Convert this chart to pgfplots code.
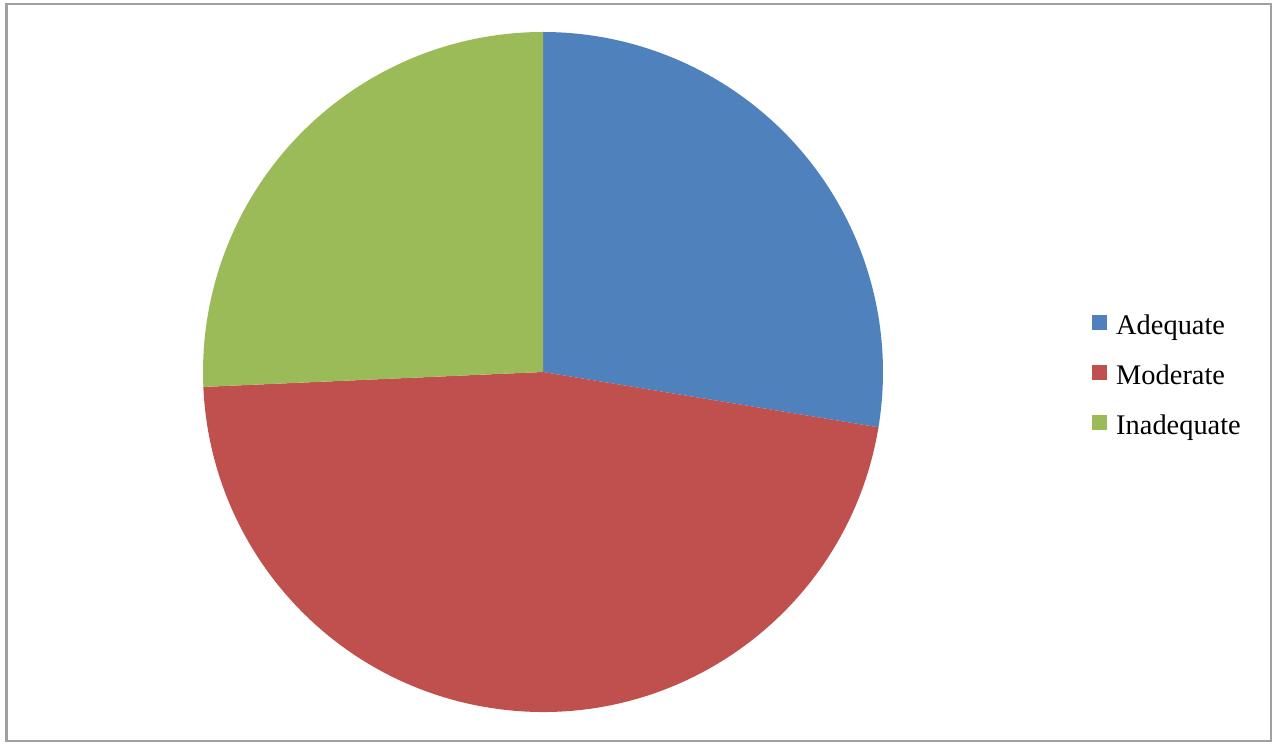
\documentclass[border=0pt]{standalone}
\usepackage{pgfplots}
\usepackage{pgfplotstable}
\pgfplotsset{compat=1.18}
\usepackage{fontspec}
\setmainfont{Liberation Serif}

\definecolor{adequate}{HTML}{4F81BD}
\definecolor{moderate}{HTML}{C0504D}
\definecolor{inadequate}{HTML}{9BBB59}
\definecolor{frame}{HTML}{A0A0A0}

% share of respondents (%)
\pgfplotstableread{
label value
Adequate 27.6
Moderate 46.7
Inadequate 25.7
}\piedata

\pgfplotstablegetelem{0}{value}\of\piedata \pgfmathsetmacro\va{\pgfplotsretval}
\pgfplotstablegetelem{1}{value}\of\piedata \pgfmathsetmacro\vb{\pgfplotsretval}
\pgfplotstablegetelem{2}{value}\of\piedata \pgfmathsetmacro\vc{\pgfplotsretval}
\pgfmathsetmacro\aA{90}
\pgfmathsetmacro\aB{\aA-3.6*\va}
\pgfmathsetmacro\aC{\aB-3.6*\vb}
\pgfmathsetmacro\aD{\aC-3.6*\vc}

\begin{document}
\begin{tikzpicture}[x=0.5pt,y=0.5pt]
\path[use as bounding box] (0,0) rectangle (1280,755);
\draw[frame, line width=1.4pt] (6.5,14) rectangle (1271,751);
\begin{axis}[
  at={(271.5pt,191.5pt)}, anchor=center,
  scale only axis, width=340pt, height=340pt,
  xmin=-1, xmax=1, ymin=-1, ymax=1,
  hide axis, clip=false,
  legend image code/.code={\fill[#1] (0pt,-1pt) rectangle (7pt,6pt);},
  legend cell align=left,
  legend style={at={(1.3074,0.584)}, anchor=north west, draw=none, fill=none,
    inner sep=0pt, font=\fontsize{14.2}{16}\selectfont,
    nodes={inner sep=0pt, text height=9.5pt, text depth=3pt},
    row sep=12.5pt, column sep=4.5pt},
  ]
  \fill[adequate] (axis cs:0,0) -- (axis cs:{cos(\aA)},{sin(\aA)})
    arc[start angle=\aA, end angle=\aB, radius=170pt] -- cycle;
  \fill[moderate] (axis cs:0,0) -- (axis cs:{cos(\aB)},{sin(\aB)})
    arc[start angle=\aB, end angle=\aC, radius=170pt] -- cycle;
  \fill[inadequate] (axis cs:0,0) -- (axis cs:{cos(\aC)},{sin(\aC)})
    arc[start angle=\aC, end angle=\aD, radius=170pt] -- cycle;
  \addlegendimage{adequate}
  \addlegendentry{Adequate}
  \addlegendimage{moderate}
  \addlegendentry{Moderate}
  \addlegendimage{inadequate}
  \addlegendentry{Inadequate}
\end{axis}
\end{tikzpicture}
\end{document}
